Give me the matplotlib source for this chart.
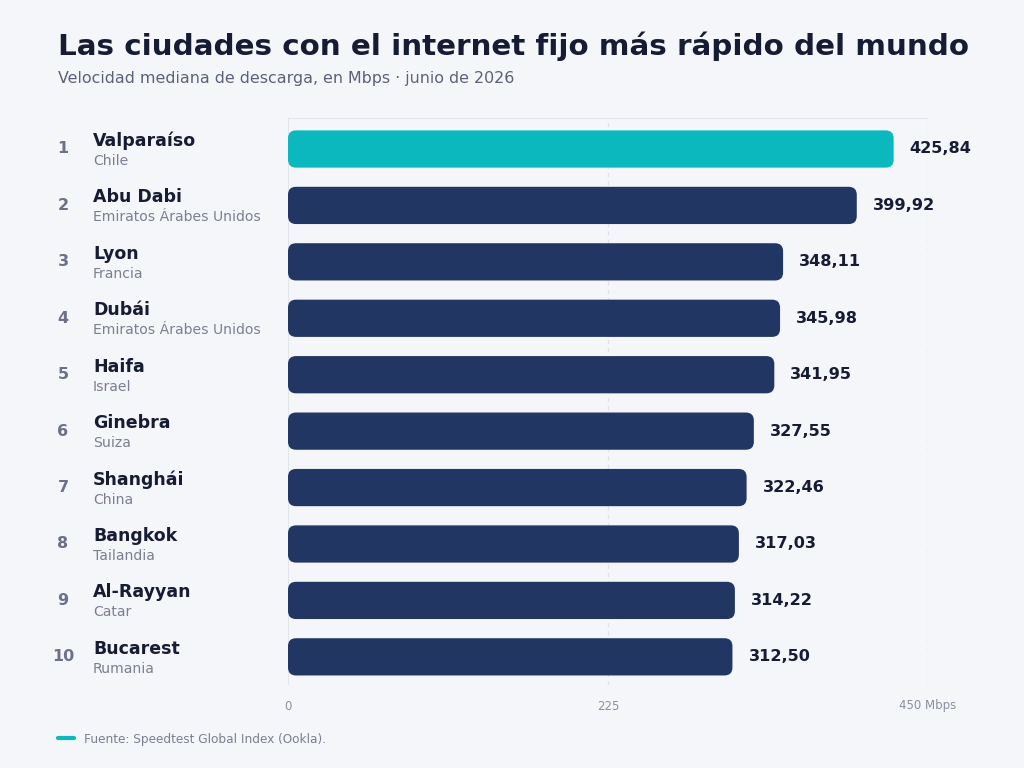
import matplotlib.pyplot as plt
from matplotlib.patches import FancyBboxPatch

plt.rcParams["font.family"] = "DejaVu Sans"

cities = ["Valparaíso", "Abu Dabi", "Lyon", "Dubái", "Haifa", "Ginebra",
          "Shanghái", "Bangkok", "Al-Rayyan", "Bucarest"]
countries = ["Chile", "Emiratos Árabes Unidos", "Francia", "Emiratos Árabes Unidos",
             "Israel", "Suiza", "China", "Tailandia", "Catar", "Rumania"]
speeds = [425.84, 399.92, 348.11, 345.98, 341.95, 327.55, 322.46, 317.03, 314.22, 312.50]
ticks = [0, 225, 450]
tick_labels = ["0", "225", "450 Mbps"]

BG = "#f5f6fa"
NAVY = "#223664"
TEAL = "#0ab8bd"
DARK = "#161c33"
GRAY = "#6b7186"
LIGHT = "#dfe2ea"

fig = plt.figure(figsize=(10.24, 7.68), dpi=100, facecolor=BG)
ax_box = [0.28125, 0.108, 0.625, 0.7384]
ax = fig.add_axes(ax_box)
ax.set_facecolor(BG)

xmax = 450
ymin, ymax = -0.55, 9.5
ax.set_xlim(0, xmax)
ax.set_ylim(ymax, ymin)

# pixel -> data, for the rounded corners
xu = xmax / (ax_box[2] * 1024)
yu = (ymax - ymin) / (ax_box[3] * 768)
radius = 8 * xu

bar_h = 0.66
for i, v in enumerate(speeds):
    color = TEAL if i == 0 else NAVY
    box = FancyBboxPatch((0, i - bar_h / 2), v, bar_h,
                         boxstyle=f"round,pad=0,rounding_size={radius}",
                         mutation_aspect=yu / xu, fc=color, ec="none", zorder=3)
    ax.add_patch(box)
    ax.text(v + 16 * xu, i, f"{v:.2f}".replace(".", ","), va="center", ha="left",
            fontsize=11.6, fontweight="bold", color=DARK, zorder=4)

for t in ticks[1:]:
    ax.axvline(t, color=LIGHT, lw=1, ls=(0, (3, 3)), zorder=1)
ax.axvline(0, color=LIGHT, lw=1.2, zorder=1)
ax.axhline(ymin, color=LIGHT, lw=1.2, zorder=1)

for s in ax.spines.values():
    s.set_visible(False)
ax.set_xticks([])
ax.set_yticks([])

for t, lab in zip(ticks, tick_labels):
    fig.text(ax_box[0] + ax_box[2] * t / xmax, 1 - 706 / 768, lab, ha="center",
             va="center", fontsize=8.5, color="#8a90a0")

for i, (c, k) in enumerate(zip(cities, countries)):
    ax.annotate(str(i + 1), xy=(0, i), xycoords=("axes fraction", "data"),
                xytext=(-225, 0), textcoords="offset pixels",
                ha="center", va="center", fontsize=11.5, fontweight="bold", color=GRAY)
    ax.annotate(c, xy=(0, i), xycoords=("axes fraction", "data"),
                xytext=(-195, 8), textcoords="offset pixels",
                ha="left", va="center", fontsize=12.5, fontweight="bold", color=DARK)
    ax.annotate(k, xy=(0, i), xycoords=("axes fraction", "data"),
                xytext=(-195, -12), textcoords="offset pixels",
                ha="left", va="center", fontsize=10.1, color="#7a8092")

fig.text(58 / 1024, 1 - 46 / 768, "Las ciudades con el internet fijo más rápido del mundo",
         ha="left", va="center", fontsize=21.2, fontweight="bold", color=DARK)
fig.text(58 / 1024, 1 - 79 / 768, "Velocidad mediana de descarga, en Mbps · junio de 2026",
         ha="left", va="center", fontsize=11.4, color="#5a6178")

fig.add_artist(plt.Line2D([58 / 1024, 74 / 1024], [1 - 738 / 768] * 2,
                          color=TEAL, lw=3, solid_capstyle="round"))
fig.text(84 / 1024, 1 - 739 / 768, "Fuente: Speedtest Global Index (Ookla).",
         ha="left", va="center", fontsize=8.7, color="#7a8092")

fig.savefig("out.png", dpi=100, facecolor=BG)
